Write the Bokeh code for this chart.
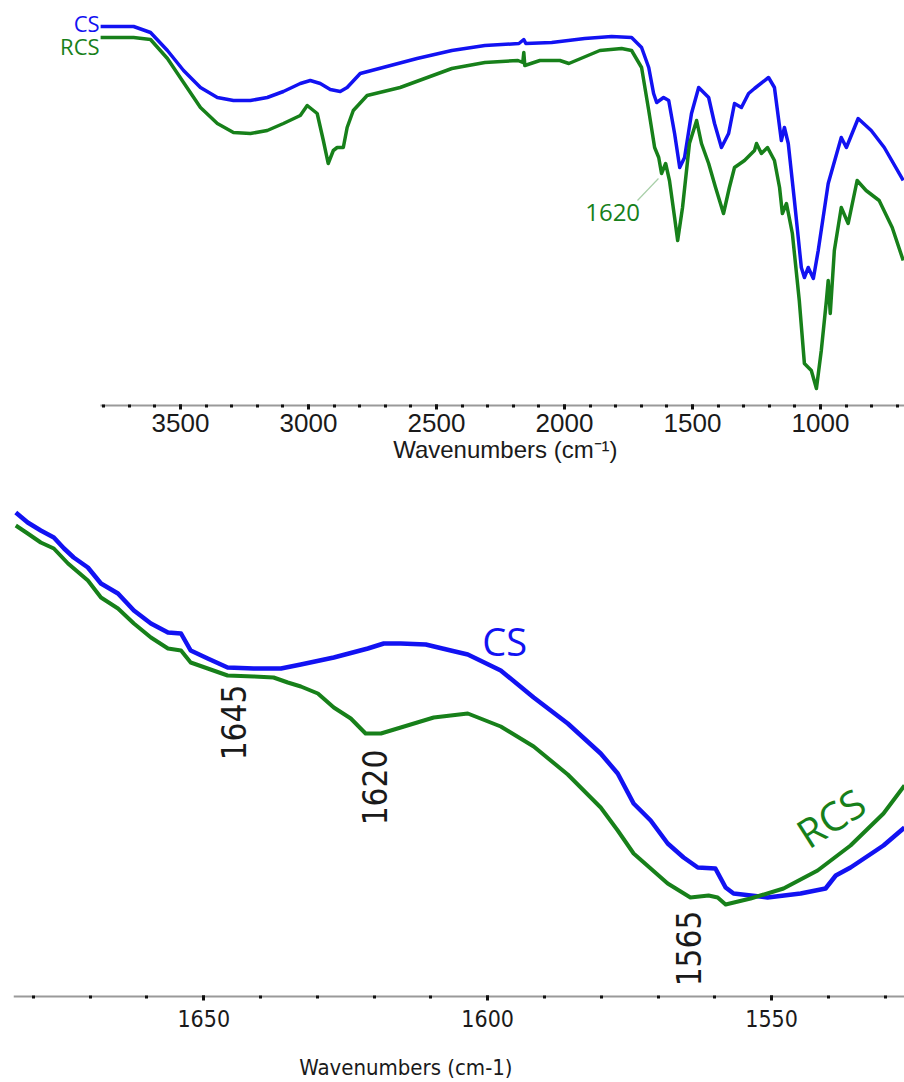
from bokeh.plotting import figure
from bokeh.models import Range1d, SingleIntervalTicker, FixedTicker, Label
from bokeh.layouts import column
from bokeh.embed import file_html
from bokeh.resources import INLINE

# ---------------- data: full spectrum (wavenumber cm-1, transmittance a.u.) ----------------
CS_TOP_W = [3812, 3683, 3617, 3551, 3488, 3422, 3356, 3293, 3227, 3161,
            3098, 3032, 2993, 2954, 2915, 2876, 2849, 2798, 2709, 2576,
            2440, 2311, 2178, 2159, 2151, 2050, 1921, 1816, 1738, 1699,
            1671, 1652, 1640, 1613, 1593, 1570, 1550, 1531, 1504, 1476,
            1437, 1414, 1387, 1359, 1336, 1309, 1281, 1258, 1203, 1180,
            1153, 1141, 1126, 1102, 1075, 1063, 1048, 1028, 1009, 970,
            919, 899, 853, 802, 751, 677]
CS_TOP_T = [379, 379, 373, 355, 335, 318, 308, 305, 305, 308,
            314, 322, 325, 322, 316, 314, 318, 332, 338, 347,
            355, 360, 362, 366, 362, 363, 367, 369, 368, 358,
            338, 312, 303, 308, 305, 272, 238, 248, 292, 318,
            308, 282, 258, 272, 302, 298, 312, 317, 328, 318,
            265, 278, 262, 205, 138, 128, 138, 127, 155, 222,
            268, 258, 287, 275, 258, 225]

RCS_TOP_W = [3812, 3683, 3617, 3551, 3488, 3422, 3356, 3293, 3227, 3161,
             3098, 3032, 3005, 2966, 2942, 2923, 2903, 2888, 2864, 2849,
             2825, 2771, 2642, 2440, 2311, 2182, 2163, 2159, 2155, 2096,
             2018, 1983, 1862, 1777, 1738, 1699, 1671, 1648, 1632, 1621,
             1605, 1590, 1570, 1558, 1539, 1512, 1484, 1465, 1437, 1410,
             1379, 1356, 1336, 1297, 1258, 1250, 1231, 1207, 1180, 1160,
             1149, 1133, 1110, 1083, 1063, 1036, 1016, 997, 977, 970,
             962, 946, 919, 892, 857, 822, 771, 720, 677]
RCS_TOP_T = [368, 368, 366, 347, 323, 298, 282, 273, 272, 275,
             282, 290, 300, 292, 265, 242, 255, 258, 258, 278,
             295, 310, 318, 337, 343, 345, 343, 353, 340, 345,
             345, 342, 355, 357, 355, 338, 295, 258, 248, 232,
             242, 225, 188, 165, 198, 262, 285, 262, 242, 218,
             192, 218, 238, 245, 255, 262, 252, 258, 245, 218,
             192, 202, 172, 105, 42, 35, 17, 55, 105, 125,
             92, 155, 198, 182, 225, 215, 205, 178, 145]

TOP_MAJOR_TICKS = [3500, 3000, 2500, 2000, 1500, 1000]
TOP_MINOR_TICKS = [3800, 3700, 3600, 3500, 3400, 3300, 3200, 3100, 3000, 2900,
                   2800, 2700, 2600, 2500, 2400, 2300, 2200, 2100, 2000, 1900,
                   1800, 1700, 1600, 1500, 1400, 1300, 1200, 1100, 1000, 900,
                   800, 700]
TOP_W_START, TOP_W_END = 3812.5, 672   # extent of the drawn wavenumber axis

# ---------------- data: zoomed region 1683-1527 cm-1 ----------------
CS_ZOOM_W = [1683.1, 1681.0, 1678.7, 1676.4, 1674.6, 1672.9, 1670.4, 1668.1, 1665.1, 1662.3,
             1659.3, 1656.3, 1654.0, 1652.3, 1649.3, 1645.8, 1641.2, 1636.4, 1632.9, 1627.1,
             1621.1, 1618.3, 1615.3, 1610.9, 1606.5, 1603.5, 1597.7, 1591.9, 1585.9, 1580.1,
             1577.1, 1574.3, 1571.3, 1568.3, 1565.5, 1563.0, 1559.9, 1558.1, 1556.7, 1550.7,
             1544.9, 1540.5, 1538.7, 1536.1, 1530.3, 1526.6]
CS_ZOOM_T = [484, 474, 466, 459, 448, 439, 429, 413, 403, 386,
             373, 364, 363, 346, 338, 329, 328, 328, 332, 339,
             348, 353, 353, 352, 346, 342, 326, 299, 273, 243,
             223, 193, 176, 153, 139, 129, 128, 109, 103, 99,
             103, 108, 121, 129, 151, 169]

RCS_ZOOM_W = [1683.1, 1681.0, 1678.7, 1676.4, 1673.9, 1670.4, 1668.1, 1665.1, 1662.3, 1659.3,
              1656.3, 1654.0, 1652.3, 1649.3, 1645.8, 1641.2, 1637.7, 1635.2, 1632.9, 1629.9,
              1627.1, 1624.1, 1621.5, 1618.8, 1615.3, 1609.5, 1603.5, 1597.7, 1591.9, 1585.9,
              1580.1, 1577.1, 1574.3, 1571.3, 1568.3, 1564.3, 1561.1, 1559.5, 1558.1, 1553.7,
              1547.9, 1541.9, 1536.1, 1530.3, 1526.6]
RCS_ZOOM_T = [471, 463, 454, 448, 433, 416, 399, 388, 373, 359,
              348, 346, 334, 328, 321, 320, 319, 314, 310, 303,
              289, 278, 263, 263, 269, 279, 283, 270, 250, 222,
              189, 166, 143, 128, 113, 99, 101, 99, 92, 98,
              108, 126, 151, 183, 211]

TOP_PEAK_LABEL = "1620"
ZOOM_PEAKS = ["1645", "1620", "1565"]
AXIS_TITLE_TOP = "Wavenumbers (cm\u207b\u00b9)"
AXIS_TITLE_ZOOM = "Wavenumbers (cm-1)"

BLUE = "#1212f2"
GREEN = "#17801a"
AXIS_GREY = "#9a9a9a"
NARROW = "'Liberation Sans Narrow', 'DejaVu Sans Condensed', sans-serif"

W = 904


def style_axis(ax, size, font):
    ax.axis_line_color = AXIS_GREY
    ax.axis_line_width = 2
    ax.major_tick_line_color = "#111111"
    ax.major_tick_line_width = 3
    ax.major_tick_in = 1
    ax.major_tick_out = 4
    ax.minor_tick_line_color = "#111111"
    ax.minor_tick_line_width = 3
    ax.minor_tick_in = 1
    ax.minor_tick_out = 2
    ax.major_label_text_font = font
    ax.major_label_text_font_size = size
    ax.major_label_text_color = "#1a1a1a"


# ---------------- top panel ----------------
# frame covers the whole canvas; the axis is pinned at T = 0 inside it
p1 = figure(width=W, height=468, output_backend="svg", toolbar_location=None,
            x_range=Range1d(4203, 672), y_range=Range1d(-63, 405),
            y_axis_location=None, min_border_left=0, min_border_right=0,
            min_border_top=0, min_border_bottom=0)
p1.frame_align = False
p1.outline_line_color = None
p1.grid.visible = False
p1.xaxis.ticker = FixedTicker(ticks=TOP_MAJOR_TICKS, minor_ticks=TOP_MINOR_TICKS)
style_axis(p1.xaxis[0], "26px", "Liberation Sans")
p1.xaxis.axis_line_color = None
p1.xaxis.fixed_location = 0
p1.xaxis.major_label_standoff = 4
p1.segment(x0=[TOP_W_START], y0=[0], x1=[TOP_W_END], y1=[0], line_color=AXIS_GREY, line_width=2)

p1.line(CS_TOP_W, CS_TOP_T, line_color=BLUE, line_width=3.5, line_join="round")
p1.line(RCS_TOP_W, RCS_TOP_T, line_color=GREEN, line_width=3.5, line_join="round")
p1.segment(x0=[1715], y0=[205], x1=[1633], y1=[227], line_color="#a8cfa8", line_width=1.2)

p1.add_layout(Label(x=3816, y=383, text="CS", text_color=BLUE, text_font="Open Sans",
                    text_font_size="22px", text_align="right", text_baseline="middle"))
p1.add_layout(Label(x=3816, y=360, text="RCS", text_color=GREEN, text_font="Open Sans",
                    text_font_size="22px", text_align="right", text_baseline="middle"))
p1.add_layout(Label(x=1812, y=193, text=TOP_PEAK_LABEL, text_color=GREEN, text_font="Open Sans",
                    text_font_size="24px", text_align="center", text_baseline="middle"))
p1.add_layout(Label(x=2231, y=-44, text=AXIS_TITLE_TOP, text_color="#1a1a1a",
                    text_font="Liberation Sans", text_font_size="24px",
                    text_align="center", text_baseline="middle"))

# ---------------- bottom (zoom) panel ----------------
p2 = figure(width=W, height=612, output_backend="svg", toolbar_location=None,
            x_range=Range1d(1683.5, 1526.6), y_range=Range1d(-84, 528),
            y_axis_location=None, min_border_left=13, min_border_right=0,
            min_border_top=0, min_border_bottom=0)
p2.frame_align = False
p2.outline_line_color = None
p2.grid.visible = False
p2.xaxis.ticker = SingleIntervalTicker(interval=50, num_minor_ticks=5)
style_axis(p2.xaxis[0], "23px", NARROW)
p2.xaxis.fixed_location = 0
p2.xaxis.major_label_standoff = 9

p2.line(CS_ZOOM_W, CS_ZOOM_T, line_color=BLUE, line_width=4.5, line_join="round")
p2.line(RCS_ZOOM_W, RCS_ZOOM_T, line_color=GREEN, line_width=4, line_join="round")

p2.add_layout(Label(x=1597, y=356, text="CS", text_color=BLUE, text_font="Open Sans",
                    text_font_size="38px", text_align="center", text_baseline="middle"))
p2.add_layout(Label(x=1539.6, y=179, text="RCS", text_color=GREEN, text_font="Open Sans",
                    text_font_size="40px", text_align="center", text_baseline="middle",
                    angle=0.57))
for lab, xx, yy in zip(ZOOM_PEAKS, [1644.7, 1619.9, 1564.6], [274, 209, 48]):
    p2.add_layout(Label(x=xx, y=yy, text=lab, text_color="#1a1a1a", text_font=NARROW,
                        text_font_size="33px", text_align="center", text_baseline="middle",
                        angle=1.5708))
p2.add_layout(Label(x=1614.4, y=-71, text=AXIS_TITLE_ZOOM, text_color="#1a1a1a",
                    text_font=NARROW, text_font_size="22px",
                    text_align="center", text_baseline="middle"))

layout = column(p1, p2)
open("out.html", "w").write(file_html(layout, INLINE))
